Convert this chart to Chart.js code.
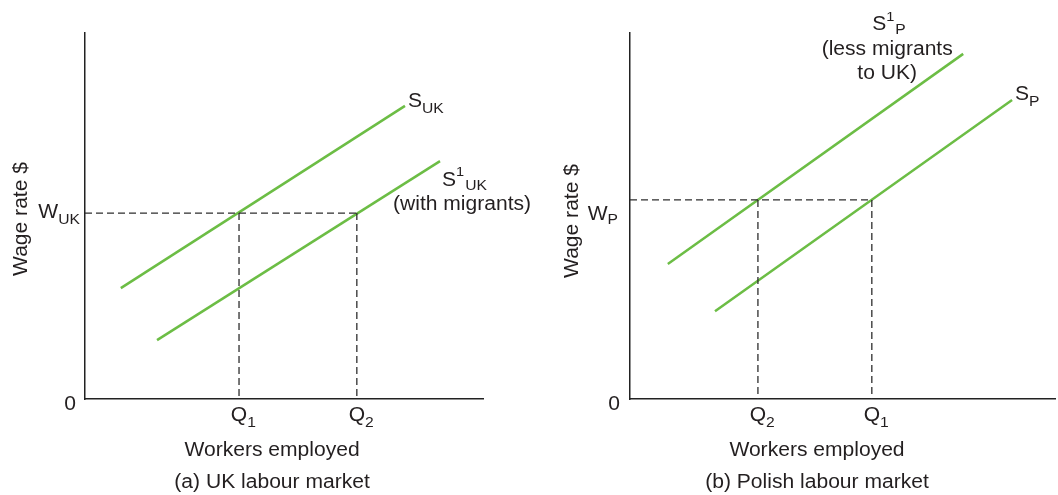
<!DOCTYPE html>
<html><head><meta charset="utf-8">
<script src="https://cdn.jsdelivr.net/npm/chart.js@4.4.0/dist/chart.umd.min.js"></script>
<style>
html,body{margin:0;padding:0;background:#fff;width:1058px;height:495px;overflow:hidden}
canvas{position:absolute;top:0}
#c1{left:0}
#c2{left:550px}
</style></head><body>
<canvas id="c1" width="550" height="495"></canvas>
<canvas id="c2" width="508" height="495"></canvas>
<script>
// ---- (a) UK labour market ----
const ukSupply = [{x: 9.0, y: 30.3}, {x: 80.4, y: 80.1}];          // S_UK
const ukSupplyMigrants = [{x: 18.1, y: 16.1}, {x: 89.2, y: 65.0}]; // S1_UK (with migrants)
const ukWage = 50.8;
const ukQ = [38.7, 68.3];
const ukQLabels = ['1', '2'];
// ---- (b) Polish labour market ----
const plSupplyLess = [{x: 8.9, y: 36.9}, {x: 78.4, y: 94.3}];      // S1_P (less migrants to UK)
const plSupply = [{x: 20.0, y: 24.0}, {x: 89.9, y: 81.7}];         // S_P
const plWage = 54.4;
const plQ = [30.1, 56.9];
const plQLabels = ['2', '1'];

const GREEN = '#6cbd45';
const DASH = '#2e2e2e';
const TEXT = '#231f20';
const FONT = '"Liberation Sans", Arial, Helvetica, sans-serif';
const SX = 1.08;
const MAIN = 19.5, SUB = 14.5, SUP = 13.5;

function drawRuns(ctx, x, y, parts, align) {
  const widths = parts.map(p => { ctx.font = p.size + 'px ' + FONT; return ctx.measureText(p.t).width * SX + (p.gap || 0); });
  const total = widths.reduce((a, b) => a + b, 0);
  let s = align === 'right' ? x - total : align === 'center' ? x - total / 2 : x;
  parts.forEach((p, i) => {
    ctx.save();
    ctx.font = p.size + 'px ' + FONT;
    ctx.textAlign = 'left';
    ctx.textBaseline = 'alphabetic';
    ctx.translate(s + (p.pre || 0), y + (p.dy || 0));
    ctx.scale(SX, 1);
    ctx.fillText(p.t, 0, 0);
    ctx.restore();
    s += widths[i];
  });
}
function M(t) { return {t: t, size: MAIN}; }
function drawQ(ctx, qx, y, sub) {
  ctx.font = MAIN + 'px ' + FONT;
  const w = ctx.measureText('Q').width * SX;
  drawRuns(ctx, qx - w / 2, y, [M('Q'), {t: sub, size: SUB, dy: 6}], 'left');
}
function drawVertical(ctx, cx, cy, text) {
  ctx.save();
  ctx.translate(cx, cy);
  ctx.rotate(-Math.PI / 2);
  drawRuns(ctx, 0, 0, [M(text)], 'center');
  ctx.restore();
}
function line(data, color, width, dash) {
  return {data: data, showLine: true, borderColor: color, borderWidth: width, borderDash: dash || [],
          pointRadius: 0, pointHoverRadius: 0, fill: false, tension: 0};
}
function axis() {
  return {type: 'linear', min: 0, max: 100, ticks: {display: false},
          grid: {display: false, drawTicks: false}, border: {display: true, color: '#222', width: 1.5}};
}
function makeChart(id, datasets, padding, drawLabels) {
  return new Chart(document.getElementById(id), {
    type: 'scatter',
    data: {datasets: datasets},
    options: {
      responsive: false, animation: false, devicePixelRatio: 1,
      layout: {padding: padding},
      plugins: {legend: {display: false}, tooltip: {enabled: false}},
      scales: {x: axis(), y: axis()}
    },
    plugins: [{id: 'labels', afterDraw(chart) {
      const ctx = chart.ctx;
      ctx.save();
      ctx.fillStyle = TEXT;
      drawLabels(ctx, chart.scales.x, chart.scales.y);
      ctx.restore();
    }}]
  });
}

// UK chart
const ukDatasets = [
  line([{x: 0, y: ukWage}, {x: ukQ[1], y: ukWage}], DASH, 1.3, [7, 4]),
  line([{x: ukQ[0], y: ukWage}, {x: ukQ[0], y: 0}], DASH, 1.3, [7, 4]),
  line([{x: ukQ[1], y: ukWage}, {x: ukQ[1], y: 0}], DASH, 1.3, [7, 4]),
  line(ukSupply, GREEN, 2.5),
  line(ukSupplyMigrants, GREEN, 2.5)
];
makeChart('c1', ukDatasets, {left: 85, top: 33, right: 67, bottom: 96}, (ctx, xs, ys) => {
  const ax = xs.getPixelForValue(0), bottom = ys.getPixelForValue(0);
  let e = ukSupply[1];
  let px = xs.getPixelForValue(e.x), py = ys.getPixelForValue(e.y);
  drawRuns(ctx, px + 3, py + 1, [M('S'), {t: 'UK', size: SUB, dy: 6}], 'left');
  e = ukSupplyMigrants[1];
  px = xs.getPixelForValue(e.x); py = ys.getPixelForValue(e.y);
  drawRuns(ctx, px + 2, py + 25, [M('S'), {t: '1', size: SUP, dy: -10}, {t: 'UK', size: SUB, dy: 4, pre: 1}], 'left');
  drawRuns(ctx, px + 22, py + 49, [M('(with migrants)')], 'center');
  const wy = ys.getPixelForValue(ukWage);
  drawRuns(ctx, ax - 5, wy + 5, [M('W'), {t: 'UK', size: SUB, dy: 6}], 'right');
  ukQ.forEach((q, i) => drawQ(ctx, xs.getPixelForValue(q), bottom + 22, ukQLabels[i]));
  drawRuns(ctx, ax - 9, bottom + 11, [M('0')], 'right');
  const cx = xs.getPixelForValue(47);
  drawRuns(ctx, cx, bottom + 57, [M('Workers employed')], 'center');
  drawRuns(ctx, cx, bottom + 89, [M('(a) UK labour market')], 'center');
  drawVertical(ctx, ax - 58, 219, 'Wage rate $');
});

// Poland chart
const plDatasets = [
  line([{x: 0, y: plWage}, {x: plQ[1], y: plWage}], DASH, 1.3, [7, 4]),
  line([{x: plQ[0], y: plWage}, {x: plQ[0], y: 0}], DASH, 1.3, [7, 4]),
  line([{x: plQ[1], y: plWage}, {x: plQ[1], y: 0}], DASH, 1.3, [7, 4]),
  line(plSupplyLess, GREEN, 2.5),
  line(plSupply, GREEN, 2.5)
];
makeChart('c2', plDatasets, {left: 80, top: 33, right: 3, bottom: 96}, (ctx, xs, ys) => {
  const ax = xs.getPixelForValue(0), bottom = ys.getPixelForValue(0);
  let e = plSupplyLess[1];
  let px = xs.getPixelForValue(e.x), py = ys.getPixelForValue(e.y);
  drawRuns(ctx, px - 91, py - 24, [M('S'), {t: '1', size: SUP, dy: -9}, {t: 'P', size: SUB, dy: 4, pre: 1}], 'left');
  drawRuns(ctx, px - 76, py + 1, [M('(less migrants')], 'center');
  drawRuns(ctx, px - 76, py + 25, [M('to UK)')], 'center');
  e = plSupply[1];
  px = xs.getPixelForValue(e.x); py = ys.getPixelForValue(e.y);
  drawRuns(ctx, px + 3, py, [M('S'), {t: 'P', size: SUB, dy: 6}], 'left');
  const wy = ys.getPixelForValue(plWage);
  drawRuns(ctx, ax - 12, wy + 20, [M('W'), {t: 'P', size: SUB, dy: 4}], 'right');
  plQ.forEach((q, i) => drawQ(ctx, xs.getPixelForValue(q), bottom + 22, plQLabels[i]));
  drawRuns(ctx, ax - 10, bottom + 11, [M('0')], 'right');
  const cx = xs.getPixelForValue(44);
  drawRuns(ctx, cx, bottom + 57, [M('Workers employed')], 'center');
  drawRuns(ctx, cx, bottom + 89, [M('(b) Polish labour market')], 'center');
  drawVertical(ctx, ax - 52, 221, 'Wage rate $');
});
</script>
</body></html>
